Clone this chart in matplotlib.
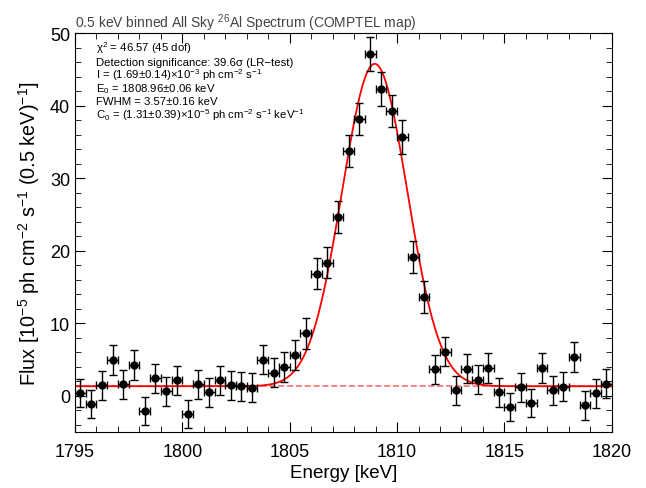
import numpy as np
import matplotlib
matplotlib.use("Agg")
import matplotlib.pyplot as plt
from matplotlib.ticker import MultipleLocator

plt.rcParams['font.family'] = ['Liberation Sans', 'DejaVu Sans']
plt.rcParams['mathtext.fontset'] = 'custom'
plt.rcParams['mathtext.rm'] = 'Liberation Sans'
plt.rcParams['mathtext.it'] = 'Liberation Sans:italic'

# 0.5 keV bins, 1795.25 ... 1819.75
energy = np.arange(1795.25, 1820.0, 0.5)
flux = [0.41, -1.1, 1.47, 4.9, 1.56, 4.27, -2.1, 2.43, 0.64, 2.11,
        -2.48, 1.56, 0.5, 2.16, 1.47, 1.33, 1.1, 5.0, 3.17, 3.95,
        5.6, 8.6, 16.85, 18.36, 24.66, 33.8, 38.15, 47.1, 42.3, 39.26,
        35.7, 19.19, 13.6, 3.67, 6.1, 0.78, 3.72, 2.2, 3.86, 0.5,
        -1.56, 1.2, -0.96, 3.86, 0.73, 1.24, 5.37, -1.33, 0.37, 1.65]
flux_err = [1.95, 1.95, 2.0, 2.05, 2.0, 2.05, 1.95, 2.0, 2.0, 2.0,
            1.95, 2.0, 2.0, 2.0, 2.0, 2.0, 2.0, 2.05, 2.0, 2.05,
            2.05, 2.1, 2.1, 2.15, 2.15, 2.2, 2.2, 2.35, 2.3, 2.25,
            2.3, 2.2, 2.2, 2.0, 2.05, 2.0, 2.0, 2.0, 2.05, 2.0,
            1.95, 2.0, 1.95, 2.05, 2.0, 2.0, 2.05, 1.95, 2.0, 2.0]
e_err = 0.25

# fit parameters (from the legend text)
line_int = 1.69e-3
e0 = 1808.96
fwhm = 3.57
c0 = 1.31

def model(e):
    sig = fwhm / 2.3548
    g = line_int / (sig * np.sqrt(2 * np.pi)) * np.exp(-0.5 * ((e - e0) / sig) ** 2)
    return c0 + g * 1e5

fig = plt.figure(figsize=(6.46, 4.89), dpi=100)
ax = fig.add_axes([0.116, 0.1145, 0.831, 0.8155])

ee = np.linspace(1795, 1820, 600)
ax.plot([1795, 1820], [c0, c0], ls='--', color='#f37070', lw=1.2)
ax.plot(ee, model(ee), color='red', lw=1.3)
ax.errorbar(energy, flux, xerr=e_err, yerr=flux_err, fmt='o', color='black',
            ms=5, elinewidth=1, capsize=2.6, capthick=1)

ax.set_xlim(1795, 1820)
ax.set_ylim(-5, 50)
ax.xaxis.set_major_locator(MultipleLocator(5))
ax.xaxis.set_minor_locator(MultipleLocator(1))
ax.yaxis.set_major_locator(MultipleLocator(10))
ax.yaxis.set_minor_locator(MultipleLocator(2))
ax.tick_params(which='both', direction='in', top=True, right=True, labelsize=13)
ax.tick_params(which='major', length=7.5)
ax.tick_params(which='minor', length=4)
ax.tick_params(axis='x', which='major', pad=8)

ax.set_xlabel('Energy [keV]', fontsize=13.5, labelpad=3)
ax.set_ylabel(r'Flux [10$^{-5}$ ph cm$^{-2}$ s$^{-1}$ (0.5 keV)$^{-1}$]', fontsize=14.3,
              labelpad=6)
ax.set_title(r'0.5 keV binned All Sky $^{26}$Al Spectrum (COMPTEL map)',
             loc='left', fontsize=10, color='#444444', pad=4)

txt = [r'χ$^2$ = 46.57 (45 dof)',
       'Detection significance: 39.6σ (LR−test)',
       r'I = (1.69±0.14)×10$^{-3}$ ph cm$^{-2}$ s$^{-1}$',
       r'E$_0$ = 1808.96±0.06 keV',
       'FWHM = 3.57±0.16 keV',
       r'C$_0$ = (1.31±0.39)×10$^{-5}$ ph cm$^{-2}$ s$^{-1}$ keV$^{-1}$']
for i, t in enumerate(txt):
    ax.text(0.040, (433 - 52 - i * 13.3) / 399, t, transform=ax.transAxes,
            fontsize=8.2, va='baseline', ha='left')

fig.savefig('out.png', dpi=100)
